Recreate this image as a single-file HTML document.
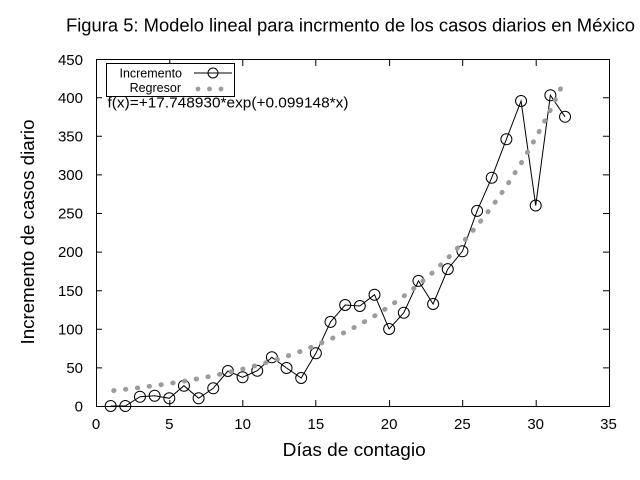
<!DOCTYPE html>
<html>
<head>
<meta charset="utf-8">
<style>
html,body{margin:0;padding:0;background:#fff;}
svg{display:block;}
text{font-family:"Liberation Sans",Arial,sans-serif;fill:#000;}
</style>
</head>
<body>
<svg width="640" height="480" viewBox="0 0 640 480" xmlns="http://www.w3.org/2000/svg">
<rect width="640" height="480" fill="#fff"/>
<!-- Title -->
<text x="66" y="31.5" font-size="18.4" textLength="569" lengthAdjust="spacingAndGlyphs">Figura 5: Modelo lineal para incrmento de los casos diarios en México</text>

<!-- Frame -->
<rect x="96.5" y="59.5" width="513" height="347" fill="none" stroke="#000" stroke-width="1"/>

<!-- Ticks -->
<g stroke="#000" stroke-width="1">
  <!-- y ticks left/right -->
  <path d="M96 406.5h6M609 406.5h-6
           M96 367.9h6M609 367.9h-6
           M96 329.3h6M609 329.3h-6
           M96 290.7h6M609 290.7h-6
           M96 252.1h6M609 252.1h-6
           M96 213.5h6M609 213.5h-6
           M96 174.9h6M609 174.9h-6
           M96 136.3h6M609 136.3h-6
           M96 97.7h6M609 97.7h-6
           M96 59.5h6M609 59.5h-6"/>
  <!-- x ticks bottom/top -->
  <path d="M169.8 406v-6M169.8 60v6
           M242.8 406v-6M242.8 60v6
           M315.8 406v-6M315.8 60v6
           M389.6 406v-6M389.6 60v6
           M462.7 406v-6M462.7 60v6
           M536.2 406v-6M536.2 60v6"/>
</g>

<!-- Y tick labels -->
<g font-size="15" text-anchor="end">
  <text x="83" y="411.5">0</text>
  <text x="83" y="373">50</text>
  <text x="83" y="334.4">100</text>
  <text x="83" y="295.8">150</text>
  <text x="83" y="257.2">200</text>
  <text x="83" y="218.6">250</text>
  <text x="83" y="180">300</text>
  <text x="83" y="141.4">350</text>
  <text x="83" y="102.8">400</text>
  <text x="83" y="64.8">450</text>
</g>
<!-- X tick labels -->
<g font-size="15" text-anchor="middle">
  <text x="96" y="429">0</text>
  <text x="169.3" y="429">5</text>
  <text x="242.6" y="429">10</text>
  <text x="315.9" y="429">15</text>
  <text x="389.1" y="429">20</text>
  <text x="462.4" y="429">25</text>
  <text x="535.7" y="429">30</text>
  <text x="608.5" y="429">35</text>
</g>

<!-- Axis labels -->
<text x="282.7" y="456" font-size="18.5" textLength="143" lengthAdjust="spacingAndGlyphs">Días de contagio</text>
<text transform="translate(34,232) rotate(-90)" x="0" y="0" font-size="18.5" text-anchor="middle" textLength="225" lengthAdjust="spacingAndGlyphs">Incremento de casos diario</text>

<!-- Data: Incremento -->
<polyline fill="none" stroke="#000" stroke-width="1" points="110.66,406 125.31,406 139.97,396.7 154.63,395.7 169.29,398.3 183.94,385.7 198.60,398.3 213.26,388.3 227.91,371 242.57,377.3 257.23,370.7 271.89,357.3 286.54,368 301.20,378 315.86,353.3 330.51,321.9 345.17,305 359.83,306 374.49,294.7 389.14,329 403.80,312.7 418.46,280.9 433.11,304 447.77,269.1 462.43,251.3 477.09,210.9 491.74,177.7 506.40,139.2 521.06,101 535.71,205.5 550.37,95.2 565.03,116.8"/>
<g fill="none" stroke="#000" stroke-width="1">
  <circle cx="110.66" cy="406" r="5.5"/>
  <circle cx="125.31" cy="406" r="5.5"/>
  <circle cx="139.97" cy="396.7" r="5.5"/>
  <circle cx="154.63" cy="395.7" r="5.5"/>
  <circle cx="169.29" cy="398.3" r="5.5"/>
  <circle cx="183.94" cy="385.7" r="5.5"/>
  <circle cx="198.60" cy="398.3" r="5.5"/>
  <circle cx="213.26" cy="388.3" r="5.5"/>
  <circle cx="227.91" cy="371" r="5.5"/>
  <circle cx="242.57" cy="377.3" r="5.5"/>
  <circle cx="257.23" cy="370.7" r="5.5"/>
  <circle cx="271.89" cy="357.3" r="5.5"/>
  <circle cx="286.54" cy="368" r="5.5"/>
  <circle cx="301.20" cy="378" r="5.5"/>
  <circle cx="315.86" cy="353.3" r="5.5"/>
  <circle cx="330.51" cy="321.9" r="5.5"/>
  <circle cx="345.17" cy="305" r="5.5"/>
  <circle cx="359.83" cy="306" r="5.5"/>
  <circle cx="374.49" cy="294.7" r="5.5"/>
  <circle cx="389.14" cy="329" r="5.5"/>
  <circle cx="403.80" cy="312.7" r="5.5"/>
  <circle cx="418.46" cy="280.9" r="5.5"/>
  <circle cx="433.11" cy="304" r="5.5"/>
  <circle cx="447.77" cy="269.1" r="5.5"/>
  <circle cx="462.43" cy="251.3" r="5.5"/>
  <circle cx="477.09" cy="210.9" r="5.5"/>
  <circle cx="491.74" cy="177.7" r="5.5"/>
  <circle cx="506.40" cy="139.2" r="5.5"/>
  <circle cx="521.06" cy="101" r="5.5"/>
  <circle cx="535.71" cy="205.5" r="5.5"/>
  <circle cx="550.37" cy="95.2" r="5.5"/>
  <circle cx="565.03" cy="116.8" r="5.5"/>
</g>

<!-- Regresor (dotted) -->
<polyline fill="none" stroke="#9c9c9c" stroke-width="4.8" stroke-linecap="round" stroke-dasharray="0.5 11.4" stroke-dashoffset="8.9"
 points="110.66,390.89 125.31,389.31 139.97,387.57 154.63,385.65 169.29,383.53 183.94,381.19 198.60,378.60 213.26,375.75 227.91,372.59 242.57,369.11 257.23,365.27 271.89,361.02 286.54,356.33 301.20,351.16 315.86,345.44 330.51,339.13 345.17,332.16 359.83,324.46 374.49,315.96 389.14,306.58 403.80,296.22 418.46,284.77 433.11,272.14 447.77,258.19 462.43,242.78 477.09,225.77 491.74,206.98 506.40,186.24 521.06,163.33 535.71,138.04 550.37,110.11 565.03,79.27"/>

<!-- Legend -->
<rect x="106.5" y="63.5" width="128" height="33" fill="#fff" stroke="#000" stroke-width="1"/>
<text x="182" y="77.5" font-size="12.5" text-anchor="end">Incremento</text>
<text x="181" y="92" font-size="12.5" text-anchor="end">Regresor</text>
<path d="M194 73h38" stroke="#000" stroke-width="1"/>
<circle cx="213" cy="73" r="5" fill="none" stroke="#000" stroke-width="1"/>
<g fill="#9c9c9c">
  <circle cx="198" cy="89" r="2.4"/>
  <circle cx="209.5" cy="89" r="2.4"/>
  <circle cx="221" cy="89" r="2.4"/>
</g>

<!-- Fit label -->
<text x="107.5" y="107.5" font-size="15" textLength="241" lengthAdjust="spacingAndGlyphs">f(x)=+17.748930*exp(+0.099148*x)</text>
</svg>
</body>
</html>
